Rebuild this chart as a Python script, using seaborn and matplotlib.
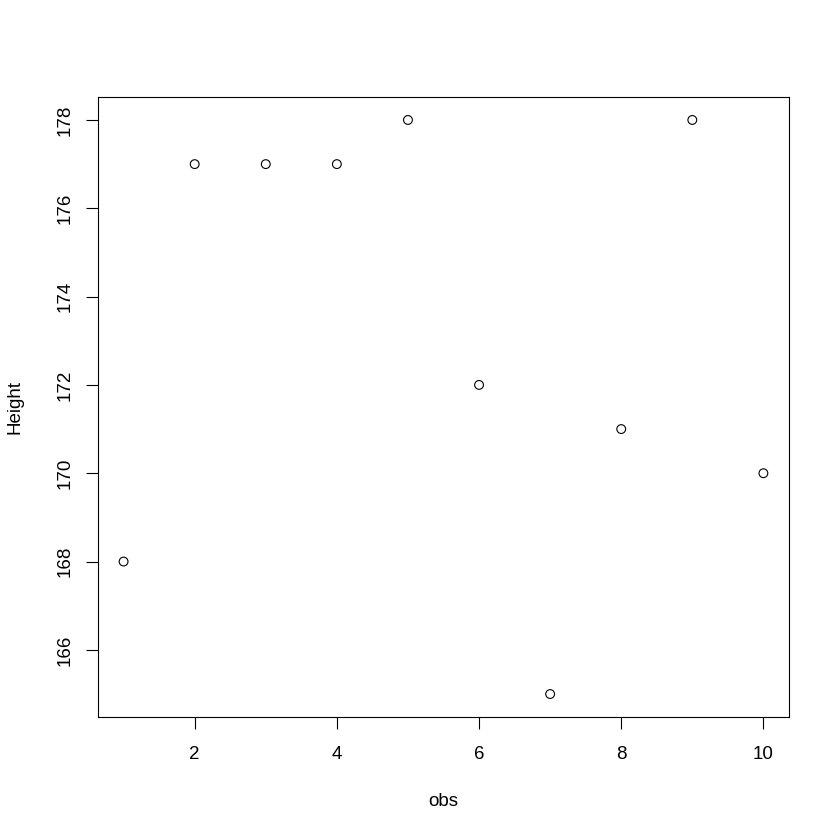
import matplotlib
matplotlib.use("Agg")
import matplotlib.pyplot as plt
import seaborn as sns
import pandas as pd

obs = [1, 2, 3, 4, 5, 6, 7, 8, 9, 10]
height = [168, 177, 177, 177, 178, 172, 165, 171, 178, 170]
xticks = [2, 4, 6, 8, 10]
yticks = [166, 168, 170, 172, 174, 176, 178]

sns.set_theme(style="white")
plt.rcParams['font.family'] = ['Liberation Sans', 'DejaVu Sans']

df = pd.DataFrame({"obs": obs, "Height": height})

fig = plt.figure(figsize=(8.4, 8.4), dpi=100)
ax = fig.add_axes([98/840, 1-717/840, (789-98)/840, (717-97)/840])
sns.scatterplot(data=df, x="obs", y="Height", ax=ax, marker="o", s=40,
                facecolor="none", edgecolor="black", linewidth=0.8)

xr = max(obs) - min(obs)
yr = max(height) - min(height)
ax.set_xlim(min(obs) - 0.04*xr, max(obs) + 0.04*xr)
ax.set_ylim(min(height) - 0.04*yr, max(height) + 0.04*yr)
ax.set_xticks(xticks)
ax.set_yticks(yticks)
ax.set_xticklabels([str(t) for t in xticks])
ax.set_yticklabels([str(t) for t in yticks], rotation=90, va="center")
ax.tick_params(axis="both", direction="out", length=8.6, width=0.8, color="black",
               labelsize=13.5, labelcolor="black", bottom=True, left=True)
ax.tick_params(axis="x", pad=12)
ax.tick_params(axis="y", pad=9)
for s in ax.spines.values():
    s.set_color("black")
    s.set_linewidth(0.8)
ax.grid(False)
ax.set_xlabel("obs", fontsize=13.5, color="black", labelpad=22)
ax.set_ylabel("Height", fontsize=13.5, color="black", labelpad=24)

fig.savefig("out.png", dpi=100, facecolor="white")
